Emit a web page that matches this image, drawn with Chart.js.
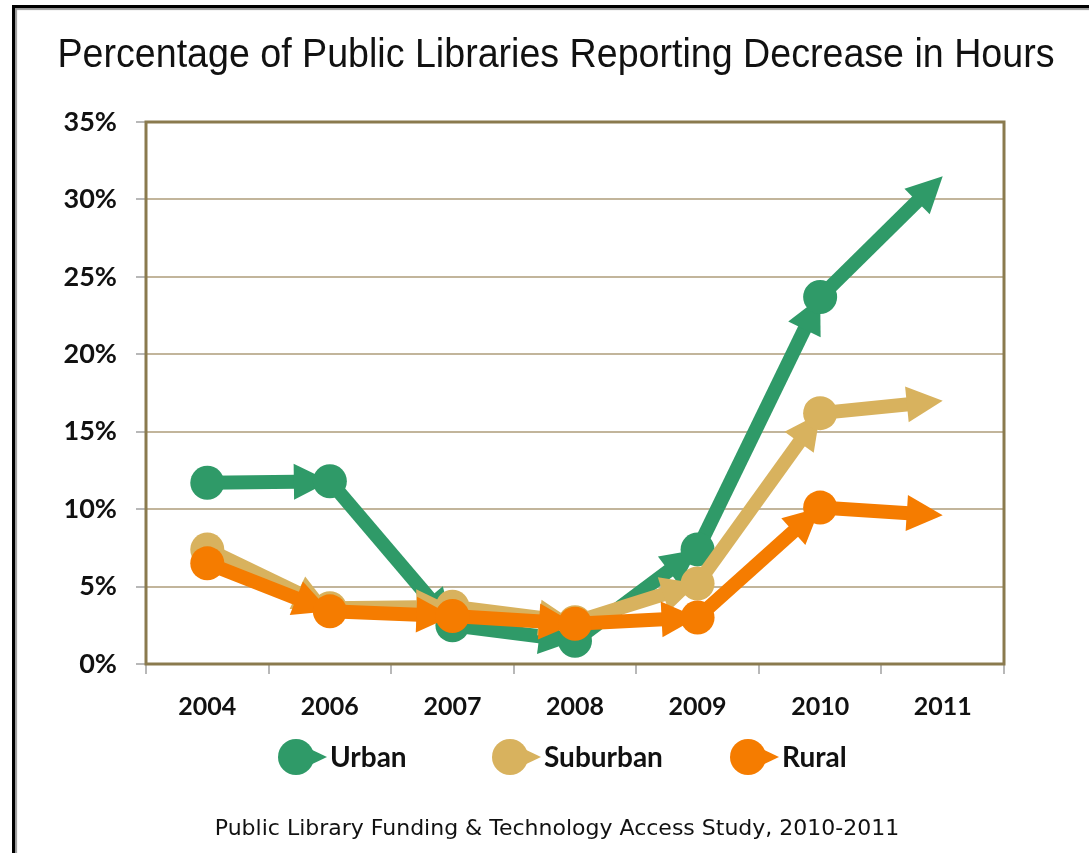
<!DOCTYPE html>
<html>
<head>
<meta charset="utf-8">
<script src="https://cdn.jsdelivr.net/npm/chart.js@4.4.1/dist/chart.umd.min.js"></script>
<style>
    html, body { margin: 0; padding: 0; background: #fff; }
    #wrap { position: relative; width: 1089px; height: 853px; overflow: hidden; }
    #frame {
        position: absolute; left: 12px; top: 5px; right: -10px; bottom: -10px;
        border-top: 3px solid #000; border-left: 3px solid #000;
        box-shadow: inset 2px 2px 1px #9a9a9a;
        pointer-events: none;
    }
    canvas { position: absolute; left: 0; top: 0; }
</style>
</head>
<body>
<div id="wrap">
    <canvas id="hoursChart" width="1089" height="853"></canvas>
    <div id="frame"></div>
</div>
<script>
const years = ['2004', '2006', '2007', '2008', '2009', '2010', '2011'];
const urban = [11.7, 11.8, 2.5, 1.5, 7.4, 23.7, 31.5];
const suburban = [7.4, 3.6, 3.7, 2.7, 5.2, 16.2, 17.0];
const rural = [6.5, 3.4, 3.1, 2.6, 3.0, 10.1, 9.6];
const seriesNames = ['Urban', 'Suburban', 'Rural'];
const seriesColors = ['#2f9a68', '#d8b25e', '#f57c00'];

const chartTitle = 'Percentage of Public Libraries Reporting Decrease in Hours';
const sourceNote = 'Public Library Funding & Technology Access Study, 2010-2011';

// circle on every point except the last one, which only gets the arrow tip
const markerRadius = years.map((_, i) => i === years.length - 1 ? 0 : 17);

function drawArrow(ctx, a, b, color) {
    const dx = b.x - a.x, dy = b.y - a.y;
    const len = Math.hypot(dx, dy);
    if (len < 1) return;
    const ux = dx / len, uy = dy / len;
    const headLen = 36, headHalf = 18;
    const bx = b.x - ux * headLen, by = b.y - uy * headLen;

    ctx.strokeStyle = color;
    ctx.fillStyle = color;
    ctx.lineWidth = 14;
    ctx.lineCap = 'butt';
    ctx.beginPath();
    ctx.moveTo(a.x, a.y);
    ctx.lineTo(bx + ux * 2, by + uy * 2);
    ctx.stroke();

    ctx.beginPath();
    ctx.moveTo(b.x, b.y);
    ctx.lineTo(bx - uy * headHalf, by + ux * headHalf);
    ctx.lineTo(bx + uy * headHalf, by - ux * headHalf);
    ctx.closePath();
    ctx.fill();
}

// segments with arrowheads go under the markers of each series
const arrowSegments = {
    id: 'arrowSegments',
    beforeDatasetDraw(chart, args) {
        const pts = args.meta.data;
        const color = chart.data.datasets[args.index].backgroundColor;
        const ctx = chart.ctx;
        ctx.save();
        for (let i = 0; i < pts.length - 1; i++) {
            drawArrow(ctx, pts[i], pts[i + 1], color);
        }
        ctx.restore();
    }
};

const plotFrame = {
    id: 'plotFrame',
    beforeDatasetsDraw(chart) {
        const { ctx, chartArea: a } = chart;
        ctx.save();
        ctx.strokeStyle = '#8a7a4e';
        ctx.lineWidth = 3;
        ctx.strokeRect(a.left, a.top, a.right - a.left, a.bottom - a.top);
        ctx.restore();
    }
};

const headerFooter = {
    id: 'headerFooter',
    afterDraw(chart) {
        const ctx = chart.ctx;
        ctx.save();

        // title, squeezed to the width of the page header
        ctx.font = '40px "Liberation Sans"';
        ctx.fillStyle = '#111';
        ctx.textBaseline = 'alphabetic';
        ctx.textAlign = 'center';
        const w = ctx.measureText(chartTitle).width;
        const sx = Math.min(1, 997 / w);
        ctx.translate(556, 67);
        ctx.scale(sx, 1);
        ctx.fillText(chartTitle, 0, 0);
        ctx.setTransform(1, 0, 0, 1, 0, 0);

        // legend
        const legendX = [296, 510, 748];
        const legendY = 757;
        seriesNames.forEach((name, i) => {
            const cx = legendX[i];
            ctx.fillStyle = seriesColors[i];
            ctx.beginPath();
            ctx.arc(cx, legendY, 18, 0, Math.PI * 2);
            ctx.fill();
            ctx.beginPath();
            ctx.moveTo(cx + 10, legendY - 10);
            ctx.lineTo(cx + 31, legendY);
            ctx.lineTo(cx + 10, legendY + 10);
            ctx.closePath();
            ctx.fill();

            ctx.fillStyle = '#111';
            ctx.font = 'bold 28px Lato';
            ctx.textAlign = 'left';
            ctx.textBaseline = 'middle';
            ctx.fillText(name, cx + 34, legendY + 1);
        });

        // source line
        ctx.font = '22px "DejaVu Sans"';
        ctx.fillStyle = '#111';
        ctx.textAlign = 'center';
        ctx.textBaseline = 'middle';
        ctx.fillText(sourceNote, 557, 829);
        ctx.restore();
    }
};

const values = [urban, suburban, rural];

new Chart(document.getElementById('hoursChart'), {
    type: 'line',
    data: {
        labels: years,
        datasets: seriesNames.map((name, i) => ({
            label: name,
            data: values[i],
            backgroundColor: seriesColors[i],
            borderColor: seriesColors[i],
            showLine: false,
            pointRadius: markerRadius,
            pointHoverRadius: markerRadius,
            pointBorderWidth: 0,
            pointBackgroundColor: seriesColors[i],
            order: 3 - i
        }))
    },
    options: {
        responsive: false,
        animation: false,
        events: [],
        layout: { padding: { top: 122, right: 85, left: 0, bottom: 0 } },
        plugins: {
            legend: { display: false },
            tooltip: { enabled: false },
            title: { display: false }
        },
        scales: {
            x: {
                type: 'category',
                offset: true,
                border: { display: false },
                grid: {
                    offset: true,
                    drawOnChartArea: false,
                    drawTicks: true,
                    tickLength: 10,
                    tickColor: '#b8b8b8',
                    lineWidth: 2
                },
                ticks: {
                    color: '#111',
                    padding: 18,
                    font: { family: 'Lato', weight: 'bold', size: 25 }
                },
                afterFit(scale) { scale.height = 189; }
            },
            y: {
                min: 0,
                max: 35,
                border: { display: false },
                grid: {
                    color: '#c2b59b',
                    lineWidth: 2,
                    tickLength: 10,
                    tickColor: '#b8b8b8'
                },
                ticks: {
                    stepSize: 5,
                    color: '#111',
                    padding: 19,
                    font: { family: 'Lato', weight: 'bold', size: 27 },
                    callback: v => v + '%'
                },
                afterFit(scale) { scale.width = 146; }
            }
        }
    },
    plugins: [plotFrame, arrowSegments, headerFooter]
});
</script>
</body>
</html>
